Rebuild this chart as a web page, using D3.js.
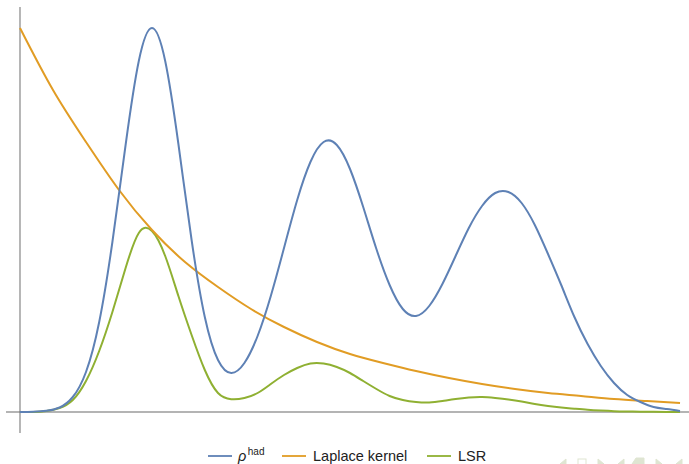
<!DOCTYPE html>
<html>
<head>
<meta charset="utf-8">
<script src="https://cdn.jsdelivr.net/npm/d3@7/dist/d3.min.js"></script>
<style>
  html, body { margin: 0; padding: 0; background: #fff; }
  svg { display: block; }
  text { font-family: "Liberation Sans", Arial, sans-serif; }
</style>
</head>
<body>
<script>
// Spectral density ρ^had, the Laplace kernel and the LSR reconstruction
const gridX = [0, 0.2, 0.4, 0.6, 0.8, 1.0, 1.2, 1.4, 1.6, 1.8, 2.0, 2.2, 2.4, 2.6, 2.8, 3.0, 3.2, 3.4, 3.6, 3.8,
  4.0, 4.2, 4.4, 4.6, 4.8, 5.0, 5.2, 5.4, 5.6, 5.8, 6.0, 6.2, 6.4, 6.6, 6.8, 7.0, 7.2, 7.4, 7.6, 7.8,
  8.0, 8.2, 8.4, 8.6, 8.8, 9.0, 9.2, 9.4, 9.6, 9.8, 10.0];

const rhoY = [0, 0.003, 0.012, 0.045, 0.15, 0.40, 0.90, 1.70, 2.67, 3.51, 3.84, 3.51, 2.68, 1.72, 0.95, 0.52, 0.39, 0.49, 0.76, 1.16,
  1.64, 2.12, 2.50, 2.70, 2.67, 2.43, 2.05, 1.63, 1.27, 1.03, 0.96, 1.06, 1.28, 1.56, 1.84, 2.06, 2.19, 2.20, 2.09, 1.87,
  1.58, 1.27, 0.95, 0.68, 0.46, 0.29, 0.17, 0.10, 0.05, 0.03, 0.01];

const lsrY = [0, 0, 0.01, 0.04, 0.12, 0.31, 0.61, 1.00, 1.44, 1.79, 1.81, 1.56, 1.16, 0.77, 0.42, 0.19, 0.128, 0.14, 0.19, 0.28,
  0.37, 0.44, 0.485, 0.485, 0.45, 0.39, 0.31, 0.23, 0.16, 0.12, 0.10, 0.095, 0.11, 0.13, 0.145, 0.15, 0.14, 0.125, 0.105, 0.08,
  0.06, 0.045, 0.033, 0.022, 0.014, 0.008, 0.005, 0.003, 0.002, 0.001, 0];

const kernelX = [0, 0.5, 1.0, 1.5, 2.0, 2.5, 3.0, 3.5, 4.0, 4.5, 5.0, 5.5, 6.0, 6.5, 7.0, 7.5, 8.0, 8.5, 9.0, 9.5, 10.0];
const kernelY = [3.84, 3.22, 2.70, 2.22, 1.82, 1.50, 1.25, 1.03, 0.85, 0.70, 0.58, 0.49, 0.41, 0.34, 0.28, 0.23, 0.19, 0.16, 0.13, 0.11, 0.09];

const seriesNames = ["ρ", "Laplace kernel", "LSR"];
const seriesColors = ["#5e81b5", "#e19c24", "#8fb032"];

const W = 689, H = 464;
const svg = d3.select("body").append("svg").attr("width", W).attr("height", H);

const x = d3.scaleLinear().domain([-0.212, 10.136]).range([6, 689]);
const y = d3.scaleLinear().domain([-0.21, 4.05]).range([433, 7]);

// axes through the origin
svg.append("line")
  .attr("x1", x(0)).attr("x2", x(0)).attr("y1", y(-0.21)).attr("y2", y(4.05))
  .attr("stroke", "#7a7a7a").attr("stroke-width", 1.1);
svg.append("line")
  .attr("x1", x(-0.212)).attr("x2", x(10.136)).attr("y1", y(0)).attr("y2", y(0))
  .attr("stroke", "#6a6a6a").attr("stroke-width", 1.1);

const series = [
  { xs: gridX, ys: rhoY },
  { xs: kernelX, ys: kernelY },
  { xs: gridX, ys: lsrY }
].map((s, i) => ({ color: seriesColors[i], pts: s.xs.map((v, k) => [v, s.ys[k]]) }));

const line = d3.line().x(d => x(d[0])).y(d => y(d[1])).curve(d3.curveNatural);

// draw in reverse so ρ stays on top where the curves overlap
svg.append("g").selectAll("path").data(series.slice().reverse()).join("path")
  .attr("d", d => line(d.pts))
  .attr("fill", "none")
  .attr("stroke", d => d.color)
  .attr("stroke-width", 2)
  .attr("stroke-linejoin", "round");

// legend
const legendY = 456;
const legendItems = [
  { lx: 208, tx: 238 },
  { lx: 282, tx: 313 },
  { lx: 427, tx: 458 }
];
const lg = svg.append("g");
legendItems.forEach((it, i) => {
  lg.append("line")
    .attr("x1", it.lx).attr("x2", it.lx + 24)
    .attr("y1", legendY).attr("y2", legendY)
    .attr("stroke", seriesColors[i]).attr("stroke-width", 1.8);
  const t = lg.append("text")
    .attr("x", it.tx).attr("y", legendY + 5)
    .attr("font-size", 14.5).attr("fill", "#222");
  if (i === 0) {
    t.append("tspan").attr("font-style", "italic").text(seriesNames[0]);
    t.append("tspan").attr("font-size", 10).attr("dx", 1.5).attr("dy", -6).text("had");
  } else {
    t.text(seriesNames[i]);
  }
});

// faint navigation symbols in the lower right corner
const nav = svg.append("g").attr("fill", "#dfe5d2").attr("stroke", "#dfe5d2");
nav.append("path").attr("d", "M560,464 L566,459 L566,464 Z");
nav.append("rect").attr("x", 578).attr("y", 459).attr("width", 8).attr("height", 6).attr("fill", "none");
nav.append("path").attr("d", "M598,459 L604,464 L598,464 Z");
nav.append("path").attr("d", "M618,464 L624,459 L624,464 Z");
nav.append("path").attr("d", "M632,464 L636,458 L644,458 L644,464 Z");
nav.append("path").attr("d", "M656,459 L662,464 L656,464 Z");
nav.append("path").attr("d", "M676,464 L682,459 L682,464 Z");
</script>
</body>
</html>
